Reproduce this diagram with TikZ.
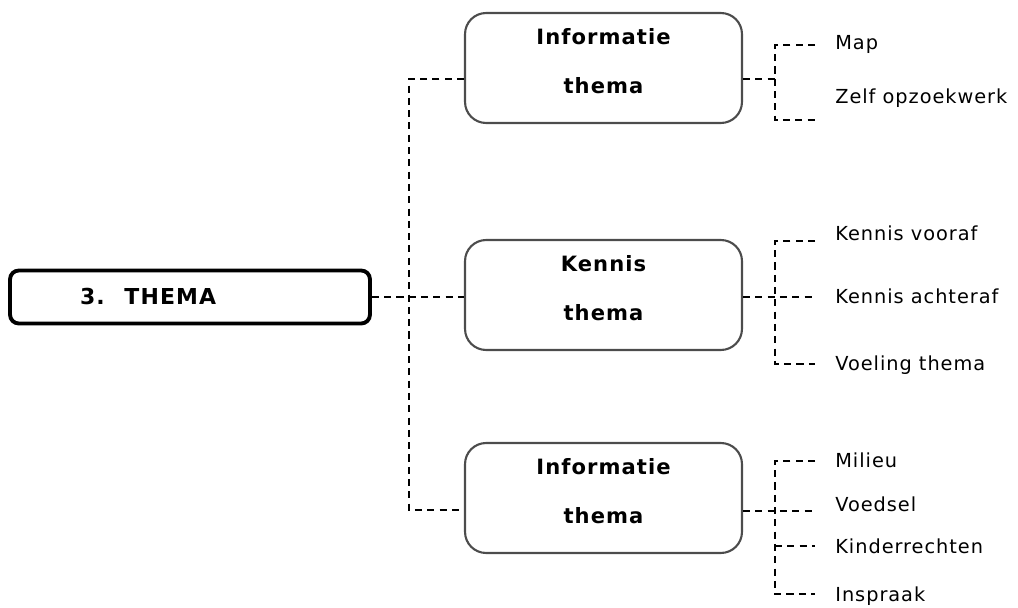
\documentclass[tikz,border=0pt]{standalone}
\usepackage{fontspec}
\setmainfont{DejaVu Sans}[LetterSpace=5]
\usetikzlibrary{positioning}

\begin{document}
\begin{tikzpicture}[
      x=0.02cm, y=-0.02cm,
      link/.style={draw=black,line width=0.9pt,dash pattern=on 4pt off 3pt},
      title box/.style={draw=black,line width=2.2pt,rounded corners=5pt,minimum height=1.06cm,
        inner xsep=1.4cm,text width=4.4cm,align=left,font=\bfseries\fontsize{12.5}{15}\selectfont},
      theme box/.style={draw=black!70,line width=1.2pt,rounded corners=12pt,minimum width=5.54cm,
        minimum height=2.2cm,align=center,font=\bfseries\fontsize{12}{28}\selectfont,
        execute at end node={\rule[-8pt]{0pt}{0pt}}},
      leaf/.style={anchor=west,inner sep=0pt,text height=8pt,text depth=2pt,font=\fontsize{11}{13}\selectfont}
      ]
      \useasboundingbox (0,0) rectangle (1018,608);
      % boxes
      \node [title box] (thema) at (190,297) {3.\hspace{0.9em}THEMA};
      \node [theme box] (info) at (603.5,68) {Informatie\\thema};
      \node [theme box] (kennis) at (603.5,295) {Kennis\\thema};
      \node [theme box] (info2) at (603.5,498) {Informatie\\thema};
      % leaves
      \node [leaf] (map) at (835,44) {Map};
      \node [leaf] (zelf) at (835,98) {Zelf opzoekwerk};
      \node [leaf] (vooraf) at (835,235) {Kennis vooraf};
      \node [leaf] (achteraf) at (835,298) {Kennis achteraf};
      \node [leaf] (voeling) at (835,365) {Voeling thema};
      \node [leaf] (milieu) at (835,462) {Milieu};
      \node [leaf] (voedsel) at (835,506) {Voedsel};
      \node [leaf] (kinder) at (835,548) {Kinderrechten};
      \node [leaf] (inspraak) at (835,596) {Inspraak};
      % spine
      \coordinate (spine top) at (409,79);
      \coordinate (spine bot) at (409,510);
      \draw [link] (thema.east) -- (kennis.west |- thema.east);
      \draw [link] (info.west |- spine top) -- (spine top) -- (spine bot) -- (info2.west |- spine bot);
      % bracket info
      \coordinate (b1 top) at (775,45);
      \coordinate (b1 mid) at (775,79);
      \coordinate (b1 bot) at (775,120);
      \draw [link] (info.east |- b1 mid) -- (b1 mid);
      \draw [link] (b1 top -| 815,0) -- (b1 top) -- (b1 bot) -- (b1 bot -| 815,0);
      % bracket kennis
      \coordinate (b2 top) at (775,241);
      \coordinate (b2 mid) at (775,297);
      \coordinate (b2 bot) at (775,364);
      \draw [link] (kennis.east |- b2 mid) -- (b2 mid -| 815,0);
      \draw [link] (b2 top -| 815,0) -- (b2 top) -- (b2 bot) -- (b2 bot -| 815,0);
      % bracket info 2
      \coordinate (b3 top) at (775,461);
      \coordinate (b3 mid) at (775,511);
      \coordinate (b3 low) at (775,546);
      \coordinate (b3 bot) at (775,594);
      \draw [link] (info2.east |- b3 mid) -- (b3 mid -| 815,0);
      \draw [link] (b3 top -| 815,0) -- (b3 top) -- (b3 bot) -- (b3 bot -| 815,0);
      \draw [link] (b3 low) -- (b3 low -| 815,0);
    \end{tikzpicture}
\end{document}
